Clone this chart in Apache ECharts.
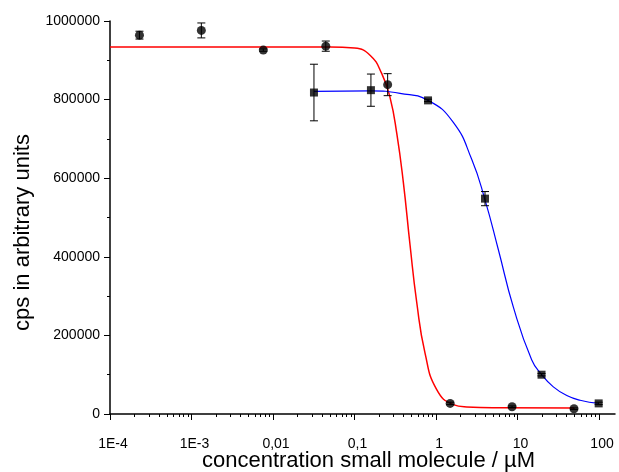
<!DOCTYPE html>
<html>
<head>
<meta charset="utf-8">
<script src="https://cdn.jsdelivr.net/npm/echarts@6/dist/echarts.min.js"></script>
<style>
  html, body { margin: 0; padding: 0; background: #fff; }
  #chart { width: 619px; height: 472px; }
</style>
</head>
<body>
<div id="chart"></div>
<script>
// tick labels
const xMajor = [0.0001, 0.001, 0.01, 0.1, 1, 10, 100]
const xMajorLabels = ['1E-4', '1E-3', '0,01', '0,1', '1', '10', '100']
const xMinor = []
for (let d = 0; d < 6; d++) {
  for (let k = 2; k <= 9; k++) xMinor.push(k * xMajor[d])
}

// measured points (circles)
const circleConc = [0.00023, 0.00132, 0.0076, 0.0444, 0.255, 1.49, 8.57, 49.3]
const circleCps = [964000, 976000, 926000, 936000, 838000, 27000, 18500, 13500]
const circleErr = [10000, 19000, 3000, 13000, 28000, 3000, 2000, 2000]

// measured points (squares)
const squareConc = [0.0318, 0.159, 0.798, 3.99, 19.7, 99]
const squareCps = [818000, 824000, 798000, 548000, 100000, 27000]
const squareErr = [72000, 41000, 3000, 18000, 3000, 3000]

// fitted curve, red
const redConc = [0.0001, 0.05, 0.1, 0.155, 0.216, 0.273, 0.33, 0.397, 0.48, 0.579, 0.733, 1.02, 1.63, 2.38, 6.1, 49.3]
const redCps = [934000, 934000, 931000, 913000, 866000, 805000, 714000, 590000, 430000, 285000, 155000, 62000, 24000, 18000, 16000, 15200]

// fitted curve, blue
const blueConc = [0.0318, 0.159, 0.362, 0.798, 1.63, 2.74, 3.99, 5.82, 8.89, 14.9, 19.8, 27.5, 40.2, 58.5, 99]
const blueCps = [821000, 822000, 816000, 798000, 742000, 648000, 545000, 418000, 272000, 138000, 100000, 69000, 47000, 35000, 27000]

const xMin = 0.0001
const xMax = 157

const errData = (conc, cps, err) => conc.map((c, i) => [c, cps[i] - err[i], cps[i] + err[i]])
const pairs = (a, b) => a.map((v, i) => [v, b[i]])

const renderErr = (params, api) => {
  const x = api.value(0)
  const top = api.coord([x, api.value(2)])
  const bot = api.coord([x, api.value(1)])
  const w = 4
  const style = { stroke: '#000', lineWidth: 1 }
  return {
    type: 'group',
    children: [
      { type: 'line', shape: { x1: top[0], y1: top[1], x2: bot[0], y2: bot[1] }, style },
      { type: 'line', shape: { x1: top[0] - w, y1: top[1], x2: top[0] + w, y2: top[1] }, style },
      { type: 'line', shape: { x1: bot[0] - w, y1: bot[1], x2: bot[0] + w, y2: bot[1] }, style }
    ]
  }
}

const font = 'Liberation Sans, Arial, sans-serif'
const chart = echarts.init(document.getElementById('chart'))

chart.setOption({
  animation: false,
  grid: { left: 110, right: 4, top: 21, bottom: 58, outerBoundsMode: 'none', containLabel: false },
  xAxis: [
    {
      type: 'log',
      min: xMin,
      max: xMax,
      name: 'concentration small molecule / µM',
      nameLocation: 'middle',
      nameGap: 36,
      nameMoveOverlap: false,
      nameTextStyle: { fontFamily: font, fontSize: 22, color: '#000', padding: [0, 0, 0, 12] },
      axisLine: { lineStyle: { color: '#000', width: 1.5 } },
      axisTick: { customValues: xMajor, length: 6, lineStyle: { color: '#000', width: 1 } },
      axisLabel: {
        customValues: xMajor,
        margin: 23,
        padding: [0, 0, 0, 6],
        fontFamily: font,
        fontSize: 14,
        color: '#000',
        formatter: v => {
          const i = xMajor.findIndex(m => Math.abs(Math.log10(m) - Math.log10(v)) < 1e-6)
          return i >= 0 ? xMajorLabels[i] : ''
        }
      },
      splitLine: { show: false }
    },
    {
      type: 'log',
      min: xMin,
      max: xMax,
      position: 'bottom',
      axisLine: { show: false },
      axisTick: { customValues: xMinor, length: 3, lineStyle: { color: '#000', width: 1 } },
      axisLabel: { show: false },
      splitLine: { show: false }
    }
  ],
  yAxis: {
    type: 'value',
    min: 0,
    max: 1000000,
    interval: 200000,
    name: 'cps in arbitrary units',
    nameLocation: 'middle',
    nameGap: 76,
    nameMoveOverlap: false,
    nameTextStyle: { fontFamily: font, fontSize: 22, color: '#000', padding: [0, 30, 0, 0] },
    axisLine: { show: true, lineStyle: { color: '#000', width: 1.5 } },
    axisTick: { show: true, length: 6, lineStyle: { color: '#000', width: 1 } },
    minorTick: { show: true, splitNumber: 2, length: 3, lineStyle: { color: '#000', width: 1 } },
    axisLabel: { margin: 10, fontFamily: font, fontSize: 14, color: '#000', formatter: v => String(v) },
    splitLine: { show: false }
  },
  series: [
    {
      name: 'fit red',
      type: 'line',
      data: pairs(redConc, redCps),
      showSymbol: false,
      smooth: 0.5,
      lineStyle: { color: '#ff0000', width: 1.5 },
      z: 1
    },
    {
      name: 'fit blue',
      type: 'line',
      data: pairs(blueConc, blueCps),
      showSymbol: false,
      smooth: 0.5,
      lineStyle: { color: '#0000ff', width: 1.2 },
      z: 1
    },
    {
      type: 'custom',
      renderItem: renderErr,
      data: errData(circleConc, circleCps, circleErr),
      encode: { x: 0, y: [1, 2] },
      z: 2
    },
    {
      type: 'custom',
      renderItem: renderErr,
      data: errData(squareConc, squareCps, squareErr),
      encode: { x: 0, y: [1, 2] },
      z: 2
    },
    {
      name: 'circles',
      type: 'scatter',
      symbol: 'circle',
      symbolSize: 9,
      data: pairs(circleConc, circleCps),
      itemStyle: { color: '#000' },
      z: 3
    },
    {
      name: 'squares',
      type: 'scatter',
      symbol: 'rect',
      symbolSize: 8,
      data: pairs(squareConc, squareCps),
      itemStyle: { color: '#000' },
      z: 3
    }
  ]
})
</script>
</body>
</html>
